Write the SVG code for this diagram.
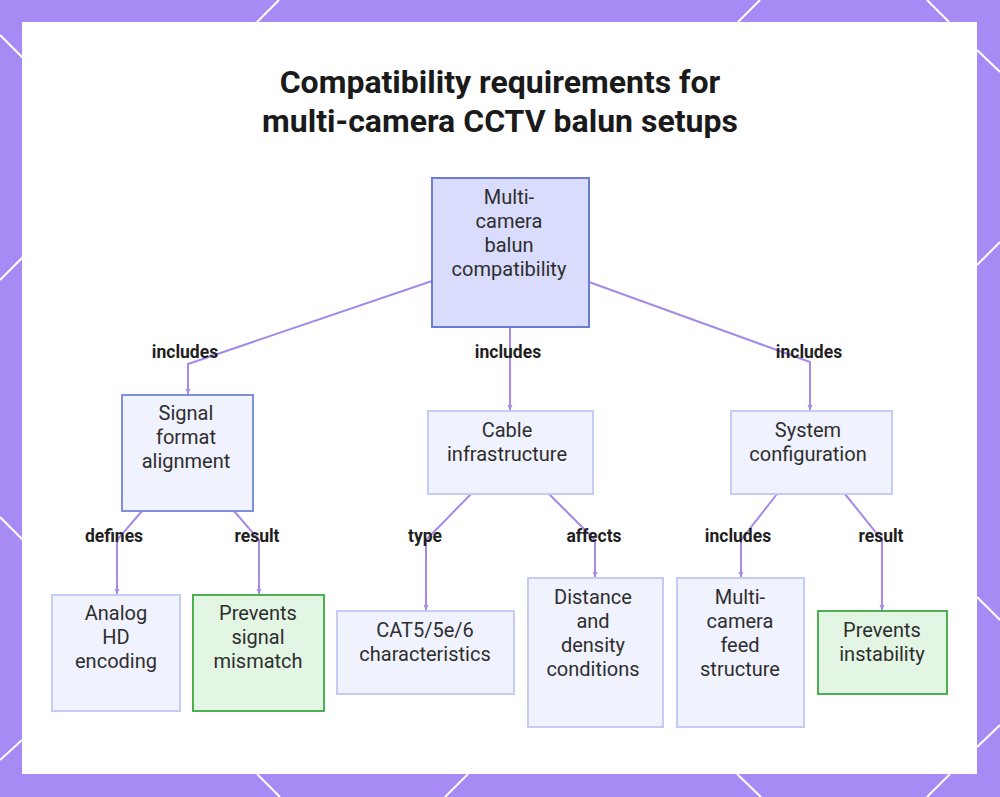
<svg xmlns="http://www.w3.org/2000/svg" width="1000" height="797" viewBox="0 0 1000 797">
<defs>
<style>
.frame-line{stroke:#ffffff;stroke-width:2;fill:none}
.title{font-family:Roboto,"Liberation Sans",sans-serif;font-weight:700;font-size:32px;fill:#1a1a1a;text-anchor:middle}
.nt{font-family:Roboto,"Liberation Sans",sans-serif;font-size:20px;fill:#2e2e2e;text-anchor:middle}
.lbl{font-family:Roboto,"Liberation Sans",sans-serif;font-weight:700;font-size:17.5px;fill:#1f1f1f;text-anchor:middle}
.edge{stroke:#a48ae6;stroke-width:2;fill:none}
.root{fill:#d9dcfc;stroke:#6c7bd4;stroke-width:2}
.blue{fill:#f0f2fe;stroke:#c5cbf3;stroke-width:2}
.blue2{fill:#f0f2fe;stroke:#7f8fe0;stroke-width:2}
.green{fill:#e3f5e3;stroke:#4caf50;stroke-width:2}
</style>
<marker id="arr" viewBox="0 0 6 6" refX="5" refY="3" markerWidth="3" markerHeight="3" orient="auto">
<path d="M0,0.5 L5,3 L0,5.5 z" fill="#a48ae6"/>
</marker>
</defs>
<rect x="0" y="0" width="1000" height="797" fill="#a68bf5"/>
<g id="frame-lines">
<line class="frame-line" x1="257" y1="22" x2="279" y2="0"/>
<line class="frame-line" x1="738" y1="22" x2="760" y2="0"/>
<line class="frame-line" x1="927" y1="0" x2="949" y2="22"/>
<line class="frame-line" x1="0" y1="35" x2="23" y2="58"/>
<line class="frame-line" x1="23" y1="257" x2="0" y2="280"/>
<line class="frame-line" x1="0" y1="517" x2="23" y2="540"/>
<line class="frame-line" x1="0" y1="760" x2="22" y2="740"/>
<line class="frame-line" x1="257" y1="774" x2="280" y2="797"/>
<line class="frame-line" x1="468" y1="774" x2="445" y2="797"/>
<line class="frame-line" x1="737" y1="774" x2="761" y2="797"/>
<line class="frame-line" x1="950" y1="774" x2="927" y2="797"/>
<line class="frame-line" x1="977" y1="50" x2="1000" y2="72"/>
<line class="frame-line" x1="977" y1="265" x2="1000" y2="242"/>
<line class="frame-line" x1="977" y1="597" x2="1000" y2="620"/>
<line class="frame-line" x1="977" y1="747" x2="1000" y2="725"/>
</g>
<rect x="22" y="22" width="955" height="752" fill="#ffffff"/>
<text class="title" x="500" y="93">Compatibility requirements for</text>
<text class="title" x="500" y="132">multi-camera CCTV balun setups</text>
<g id="connectors">
<polyline class="edge" points="432,281 188,364 188,394" marker-end="url(#arr)"/>
<polyline class="edge" points="510,327 510,410" marker-end="url(#arr)"/>
<polyline class="edge" points="589,282 810,362 810,410" marker-end="url(#arr)"/>
<polyline class="edge" points="142,511 117,540 117,594" marker-end="url(#arr)"/>
<polyline class="edge" points="234,511 259,540 259,594" marker-end="url(#arr)"/>
<polyline class="edge" points="471,494 426,540 426,610" marker-end="url(#arr)"/>
<polyline class="edge" points="549,494 595,540 595,577" marker-end="url(#arr)"/>
<polyline class="edge" points="777,494 741,540 741,577" marker-end="url(#arr)"/>
<polyline class="edge" points="845,494 882,540 882,610" marker-end="url(#arr)"/>
<text class="lbl" x="185" y="358">includes</text>
<text class="lbl" x="508" y="358">includes</text>
<text class="lbl" x="809" y="358">includes</text>
<text class="lbl" x="114" y="542">defines</text>
<text class="lbl" x="257" y="542">result</text>
<text class="lbl" x="425" y="542">type</text>
<text class="lbl" x="594" y="542">affects</text>
<text class="lbl" x="738" y="542">includes</text>
<text class="lbl" x="881" y="542">result</text>
</g>
<g id="root">
<rect class="root" x="432" y="178" width="157" height="149"/>
<text class="nt" x="509" y="204">Multi-</text>
<text class="nt" x="509" y="228">camera</text>
<text class="nt" x="509" y="252">balun</text>
<text class="nt" x="509" y="276">compatibility</text>
</g>
<g id="signal">
<rect class="blue2" x="122" y="395" width="131" height="116"/>
<text class="nt" x="186" y="420">Signal</text>
<text class="nt" x="186" y="444">format</text>
<text class="nt" x="186" y="468">alignment</text>
</g>
<g id="cable">
<rect class="blue" x="428" y="411" width="165" height="83"/>
<text class="nt" x="507" y="437">Cable</text>
<text class="nt" x="507" y="461">infrastructure</text>
</g>
<g id="system">
<rect class="blue" x="731" y="411" width="161" height="83"/>
<text class="nt" x="808" y="437">System</text>
<text class="nt" x="808" y="461">configuration</text>
</g>
<g id="analog">
<rect class="blue" x="52" y="595" width="128" height="116"/>
<text class="nt" x="116" y="620">Analog</text>
<text class="nt" x="116" y="644">HD</text>
<text class="nt" x="116" y="668">encoding</text>
</g>
<g id="prevents-mismatch">
<rect class="green" x="193" y="595" width="131" height="116"/>
<text class="nt" x="258" y="620">Prevents</text>
<text class="nt" x="258" y="644">signal</text>
<text class="nt" x="258" y="668">mismatch</text>
</g>
<g id="cat5">
<rect class="blue" x="337" y="611" width="177" height="83"/>
<text class="nt" x="425" y="637">CAT5/5e/6</text>
<text class="nt" x="425" y="661">characteristics</text>
</g>
<g id="distance">
<rect class="blue" x="528" y="578" width="135" height="149"/>
<text class="nt" x="593" y="604">Distance</text>
<text class="nt" x="593" y="628">and</text>
<text class="nt" x="593" y="652">density</text>
<text class="nt" x="593" y="676">conditions</text>
</g>
<g id="feed">
<rect class="blue" x="677" y="578" width="127" height="149"/>
<text class="nt" x="740" y="604">Multi-</text>
<text class="nt" x="740" y="628">camera</text>
<text class="nt" x="740" y="652">feed</text>
<text class="nt" x="740" y="676">structure</text>
</g>
<g id="prevents-instability">
<rect class="green" x="818" y="611" width="129" height="83"/>
<text class="nt" x="882" y="637">Prevents</text>
<text class="nt" x="882" y="661">instability</text>
</g>
</svg>
